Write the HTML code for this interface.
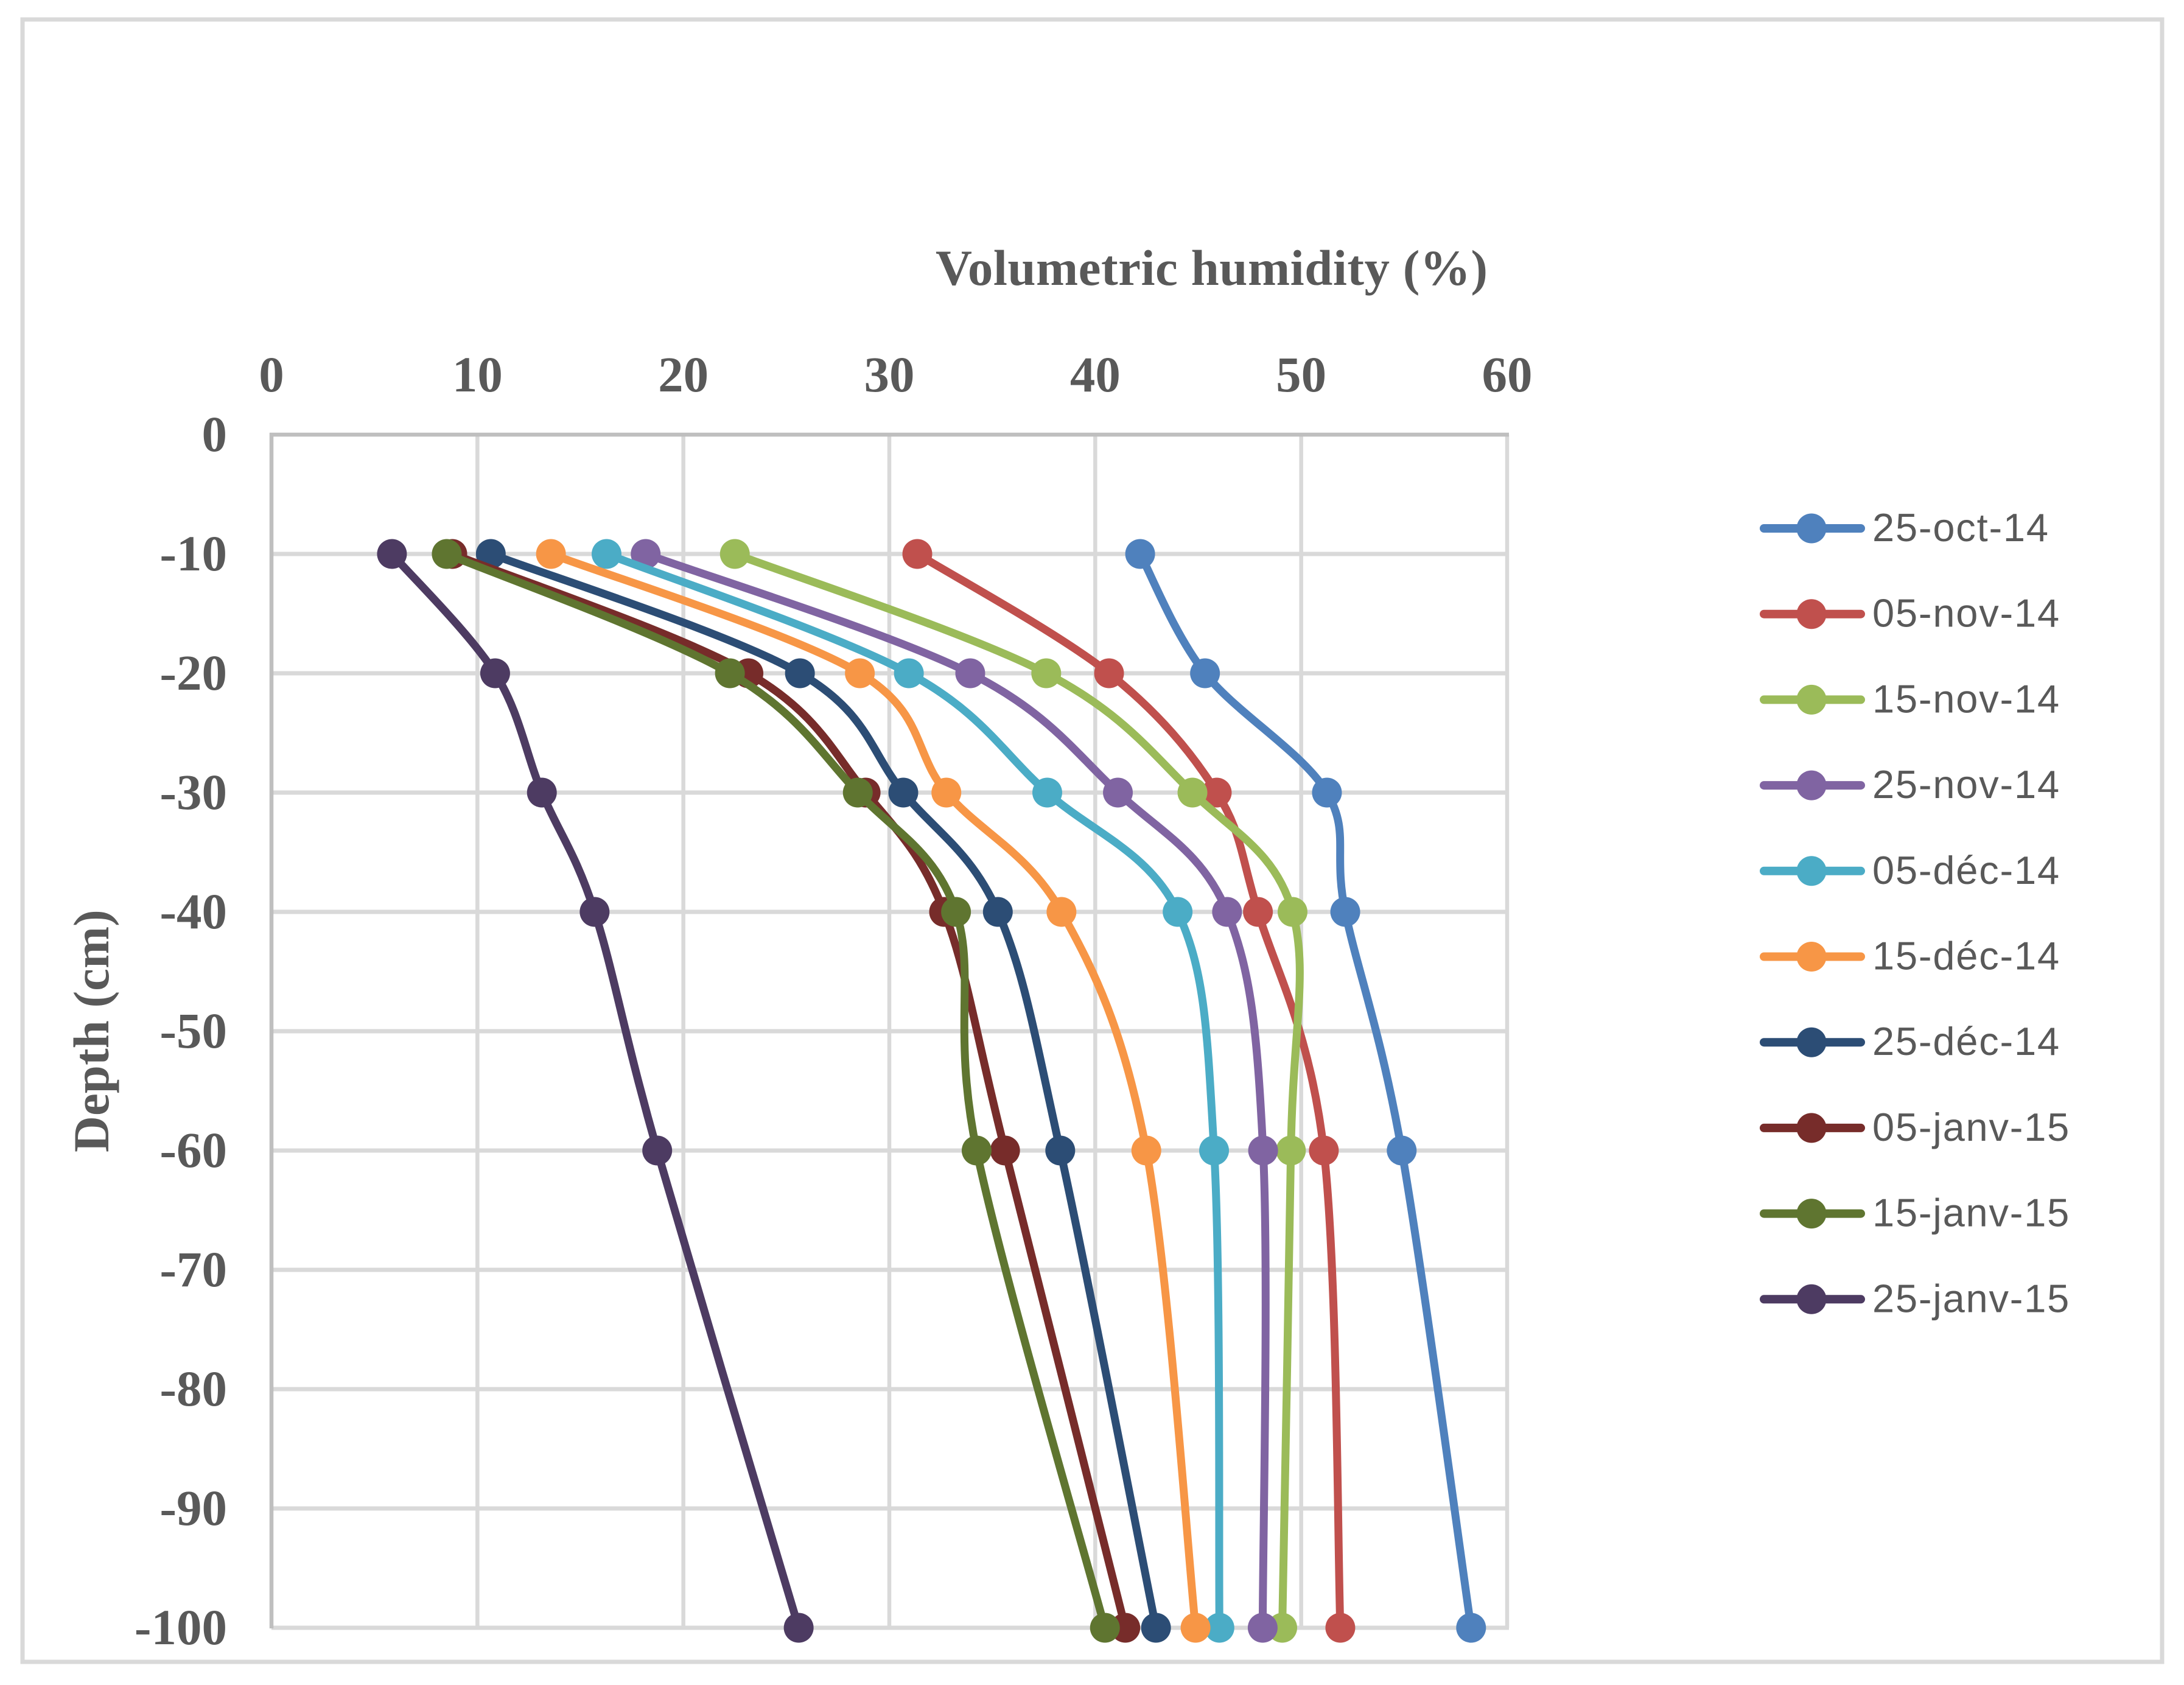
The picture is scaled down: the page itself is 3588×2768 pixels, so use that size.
<!DOCTYPE html>
<html lang="en">
<head>
<meta charset="utf-8">
<title>Volumetric humidity by depth</title>
<style>
  html, body { margin: 0; padding: 0; background: #fff; }
  svg { display: block; }
  .bold-label { font-family: "Liberation Serif", "Times New Roman", serif; font-weight: 700; font-size: 83px; fill: #595959; }
  .legend-label { font-family: "Liberation Sans", sans-serif; font-size: 65px; letter-spacing: 1.8px; fill: #595959; }
</style>
</head>
<body>
<svg id="chart" xmlns="http://www.w3.org/2000/svg" width="3588" height="2768" viewBox="0 0 3588 2768">
  <rect x="0" y="0" width="3588" height="2768" fill="#ffffff"/>
  <rect x="37" y="32" width="3515" height="2698" fill="#ffffff" stroke="#d9d9d9" stroke-width="7"/>
  <g id="grid"></g>
  <g id="ticks"></g>
  <text class="bold-label" x="1537" y="468" style="letter-spacing:0.5px">Volumetric humidity (%)</text>
  <text class="bold-label" transform="translate(178 1893) rotate(-90)" x="0" y="0">Depth (cm)</text>
  <g id="series"></g>
  <g id="legend"></g>
</svg>
<script>
const depths = [-10, -20, -30, -40, -60, -100];
const xTicks = [0, 10, 20, 30, 40, 50, 60];
const yTicks = [0, -10, -20, -30, -40, -50, -60, -70, -80, -90, -100];
const seriesNames = ['25-oct-14', '05-nov-14', '15-nov-14', '25-nov-14', '05-déc-14', '15-déc-14', '25-déc-14', '05-janv-15', '15-janv-15', '25-janv-15'];
const seriesColors = ['#4f81bd', '#c0504d', '#9bbb59', '#8064a2', '#4bacc6', '#f79646', '#2c4d75', '#772c2a', '#5f7530', '#4d3b62'];
const oct25 = [42.18, 45.33, 51.25, 52.14, 54.88, 58.25];
const nov05 = [31.36, 40.67, 45.9, 47.9, 51.1, 51.9];
const nov15 = [22.5, 37.62, 44.72, 49.58, 49.5, 49.08];
const nov25 = [18.17, 33.93, 41.1, 46.4, 48.15, 48.13];
const dec05 = [16.27, 30.95, 37.67, 44.0, 45.77, 46.03];
const dec15 = [13.57, 28.57, 32.77, 38.36, 42.48, 44.87];
const dec25 = [10.65, 25.66, 30.68, 35.27, 38.3, 42.95];
const jan05 = [8.78, 23.16, 28.85, 32.66, 35.62, 41.46];
const jan15 = [8.51, 22.26, 28.47, 33.24, 34.24, 40.47];
const jan25 = [5.85, 10.86, 13.13, 15.69, 18.73, 25.6];
const seriesValues = [oct25, nov05, nov15, nov25, dec05, dec15, dec25, jan05, jan15, jan25];

const NS = 'http://www.w3.org/2000/svg';
const plotLeft = 446, plotRight = 2476, plotTop = 714, plotBottom = 2674;
const xMax = 60, yMin = -100;
function xScale(v) { return plotLeft + (v / xMax) * (plotRight - plotLeft); }
function yScale(d) { return plotTop + (d / yMin) * (plotBottom - plotTop); }

function make(tag, attrs, parent) {
  const el = document.createElementNS(NS, tag);
  for (const k in attrs) el.setAttribute(k, attrs[k]);
  parent.appendChild(el);
  return el;
}

const gridG = document.getElementById('grid');
const ticksG = document.getElementById('ticks');
const seriesG = document.getElementById('series');
const legendG = document.getElementById('legend');

xTicks.forEach(function (t) {
  if (t !== 0) {
    const v = make('line', { x1: xScale(t), x2: xScale(t), y1: plotTop, y2: plotBottom, stroke: '#d9d9d9', 'stroke-width': 6.5 }, gridG);
    
    
  }
  const lab = make('text', { x: xScale(t), y: 643, 'text-anchor': 'middle', class: 'bold-label' }, ticksG);
  lab.textContent = String(t);
  
  
});

yTicks.forEach(function (t) {
  if (t !== 0) {
    const h = make('line', { x1: plotLeft, x2: plotRight + 3, y1: yScale(t), y2: yScale(t), stroke: '#d9d9d9', 'stroke-width': 7 }, gridG);
    
    
  }
  const lab = make('text', { x: 373, y: yScale(t) + 27, 'text-anchor': 'end', class: 'bold-label' }, ticksG);
  lab.textContent = String(t);
  
  
});

const topAxis = make('line', { x1: plotLeft - 3, x2: plotRight + 3, y1: plotTop, y2: plotTop, stroke: '#bfbfbf', 'stroke-width': 6.5 }, gridG);


const leftAxis = make('line', { x1: plotLeft, x2: plotLeft, y1: plotTop - 3, y2: plotBottom + 1, stroke: '#bfbfbf', 'stroke-width': 6.5 }, gridG);



function smoothPath(pts) {
  let d = 'M' + pts[0][0] + ' ' + pts[0][1];
  for (let i = 0; i < pts.length - 1; i++) {
    const p0 = pts[Math.max(i - 1, 0)], p1 = pts[i], p2 = pts[i + 1], p3 = pts[Math.min(i + 2, pts.length - 1)];
    const c1x = p1[0] + (p2[0] - p0[0]) / 6, c1y = p1[1] + (p2[1] - p0[1]) / 6;
    const c2x = p2[0] - (p3[0] - p1[0]) / 6, c2y = p2[1] - (p3[1] - p1[1]) / 6;
    d += ' C' + c1x + ' ' + c1y + ' ' + c2x + ' ' + c2y + ' ' + p2[0] + ' ' + p2[1];
  }
  return d;
}

seriesValues.forEach(function (vals, s) {
  const color = seriesColors[s];
  const g = make('g', {}, seriesG);
  
  
  const pts = vals.map(function (v, i) { return [xScale(v), yScale(depths[i])]; });
  const path = make('path', { d: smoothPath(pts), fill: 'none', stroke: color, 'stroke-width': 13, 'stroke-linecap': 'round', 'stroke-linejoin': 'round' }, g);
  
  
  pts.forEach(function (p) {
    const c = make('circle', { cx: p[0], cy: p[1], r: 24.5, fill: color }, g);
    
    
  });

  const ly = 868 + s * 140.7;
  const item = make('g', {}, legendG);
  
  
  const ll = make('line', { x1: 2898, x2: 3057, y1: ly, y2: ly, stroke: color, 'stroke-width': 14, 'stroke-linecap': 'round' }, item);
  
  
  const lm = make('circle', { cx: 2976, cy: ly, r: 24.5, fill: color }, item);
  
  
  const lt = make('text', { x: 3076, y: ly + 21, class: 'legend-label' }, item);
  lt.textContent = seriesNames[s];
  
  
});
</script>
</body>
</html>
